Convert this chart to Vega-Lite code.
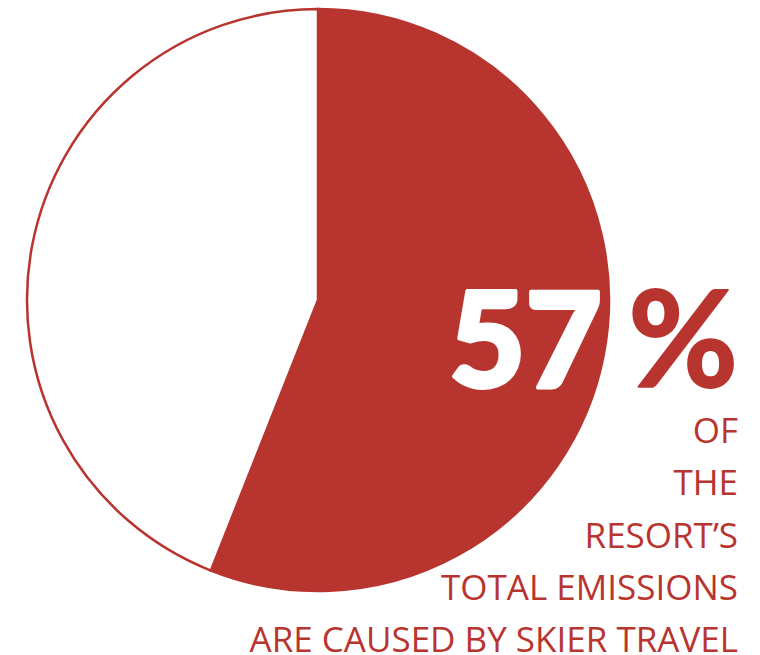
{
  "$schema": "https://vega.github.io/schema/vega-lite/v6.json",
  "width": 760,
  "height": 655,
  "padding": 0,
  "autosize": {"type": "none"},
  "background": "white",
  "config": {"view": {"stroke": null}},
  "layer": [
    {
      "data": {"values": [
        {"category": "Skier travel", "share": 56},
        {"category": "Other", "share": 44}
      ]},
      "mark": {"type": "arc", "x": 318, "y": 300, "radius": 291, "stroke": "#B8352F", "strokeWidth": 2.5},
      "encoding": {
        "theta": {"field": "share", "type": "quantitative", "stack": true},
        "order": {"field": "share", "type": "quantitative", "sort": "descending"},
        "color": {"field": "category", "type": "nominal", "legend": null,
          "scale": {"domain": ["Skier travel", "Other"], "range": ["#B8352F", "#FFFFFF"]}}
      }
    },
    {
      "data": {"values": [{"label": "57"}]},
      "mark": {"type": "text", "x": 602, "y": 387, "align": "right", "baseline": "alphabetic",
        "font": "Lato", "fontWeight": 900, "fontSize": 132, "fill": "#FFFFFF",
        "stroke": "#FFFFFF", "strokeWidth": 4, "strokeJoin": "round"},
      "encoding": {"text": {"field": "label", "type": "nominal"}}
    },
    {
      "data": {"values": [{"label": "%"}]},
      "mark": {"type": "text", "x": 738, "y": 387, "align": "right", "baseline": "alphabetic",
        "font": "Lato", "fontWeight": 700, "fontSize": 134, "fill": "#B8352F",
        "stroke": "#B8352F", "strokeWidth": 2, "strokeJoin": "round"},
      "encoding": {"text": {"field": "label", "type": "nominal"}}
    },
    {
      "data": {"values": [
        {"line": 1, "text": "OF"},
        {"line": 2, "text": "THE"},
        {"line": 3, "text": "RESORT’S"},
        {"line": 4, "text": "TOTAL EMISSIONS"},
        {"line": 5, "text": "ARE CAUSED BY SKIER TRAVEL"}
      ]},
      "mark": {"type": "text", "x": 738, "align": "right", "baseline": "alphabetic",
        "font": "Open Sans", "fontSize": 35, "fill": "#B8352F"},
      "encoding": {
        "y": {"field": "line", "type": "quantitative", "axis": null,
          "scale": {"domain": [1, 5], "range": [443, 652]}},
        "text": {"field": "text", "type": "nominal"}
      }
    }
  ]
}
